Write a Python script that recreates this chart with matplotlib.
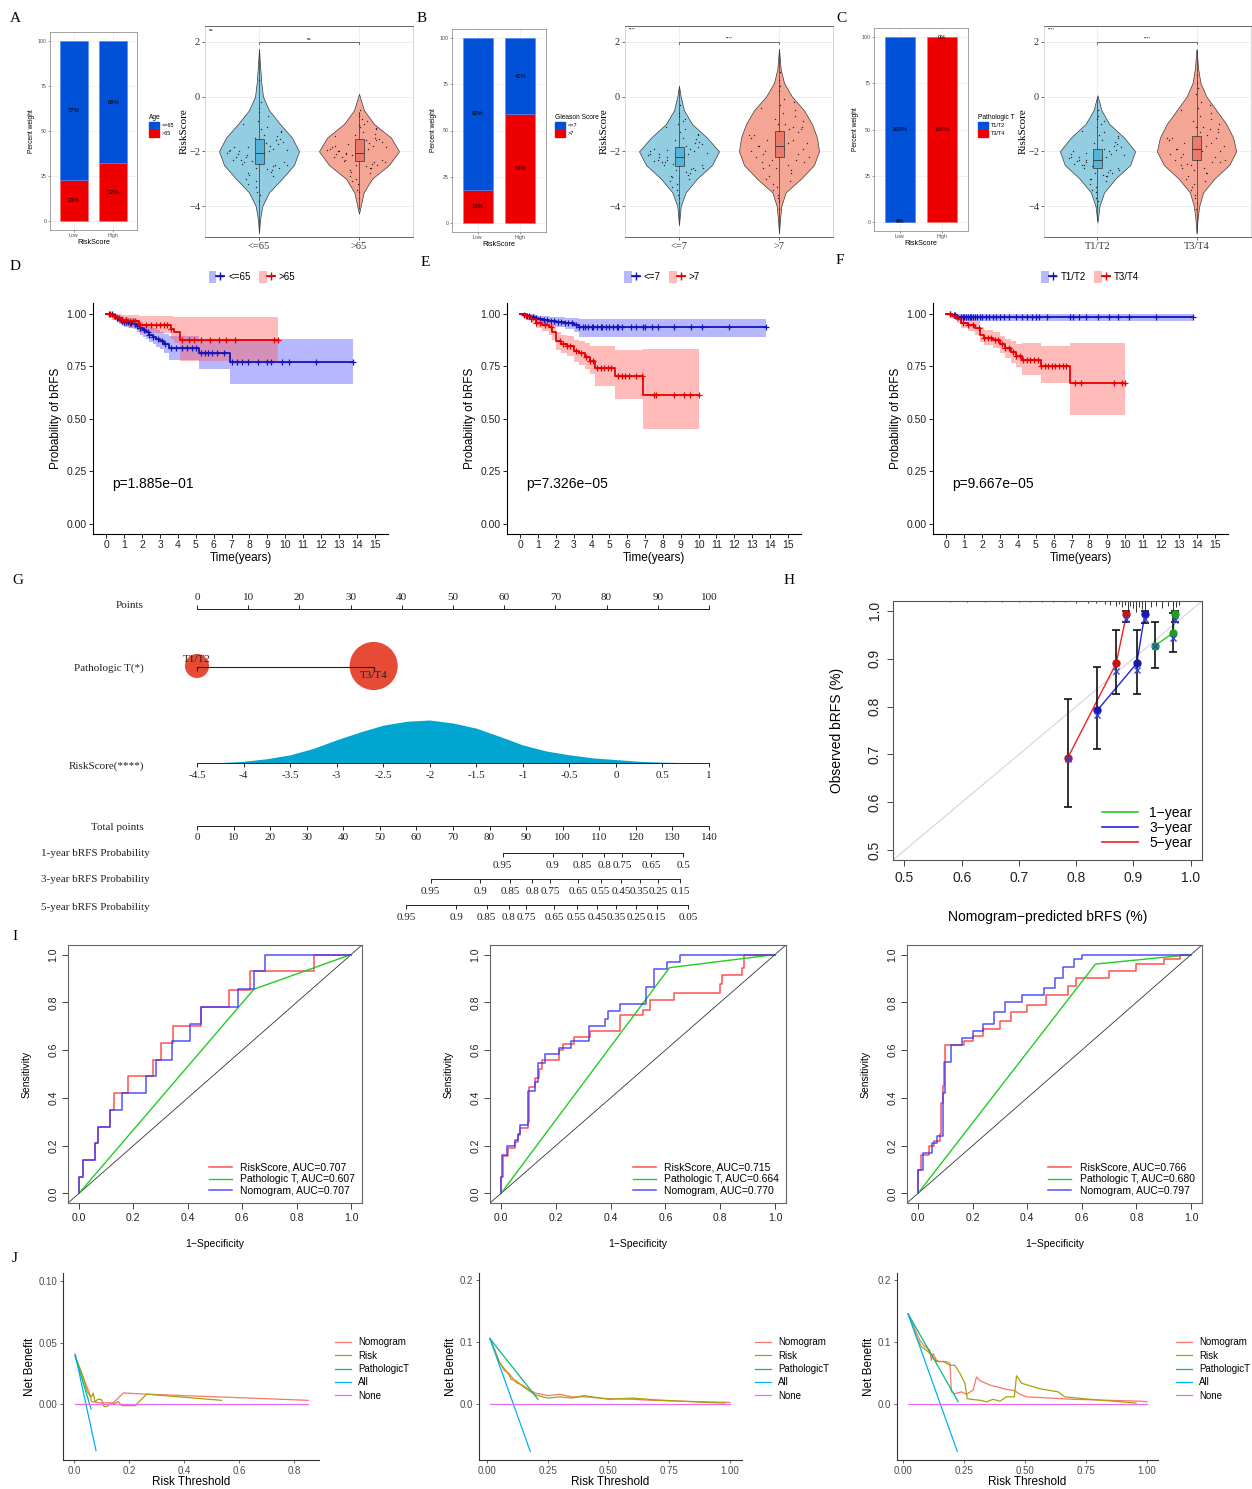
import numpy as np
import matplotlib
matplotlib.use("Agg")
import matplotlib.pyplot as plt
from matplotlib.patches import Patch
from matplotlib.lines import Line2D
from matplotlib.legend_handler import HandlerTuple

plt.rcParams["font.family"] = ["Liberation Sans", "DejaVu Sans"]
SERIF = ["Liberation Serif", "DejaVu Serif"]

# ---------------- A-C: stacked bars (percent) ----------------
risk_groups = ["Low", "High"]
age_le65 = [77, 68]
age_gt65 = [23, 32]
gleason_le7 = [82, 41]
gleason_gt7 = [18, 59]
pt_t12 = [100, 0]
pt_t34 = [0, 100]

# ---------------- A-C: violins (RiskScore level, half width) ----------------
vio_a1_y = [-5.0, -4.5, -4.0, -3.5, -3.0, -2.5, -2.0, -1.5, -1.0, -0.5, 0.0, 0.5, 1.0, 1.75]
vio_a1_w = [0, 0.01, 0.033, 0.10, 0.23, 0.35, 0.40, 0.33, 0.21, 0.10, 0.04, 0.023, 0.013, 0]
vio_a2_y = [-4.28, -4.0, -3.5, -3.0, -2.5, -2.0, -1.5, -1.0, -0.5, 0.1]
vio_a2_w = [0, 0.017, 0.047, 0.13, 0.30, 0.40, 0.32, 0.15, 0.05, 0]
vio_b1_y = [-4.7, -4.0, -3.5, -3.0, -2.5, -2.0, -1.5, -1.0, -0.5, 0.0, 0.4]
vio_b1_w = [0, 0.017, 0.067, 0.18, 0.33, 0.40, 0.28, 0.13, 0.05, 0.017, 0]
vio_b2_y = [-5.0, -4.5, -4.0, -3.5, -3.0, -2.5, -2.0, -1.5, -1.0, -0.5, 0.0, 0.5, 1.0, 1.75]
vio_b2_w = [0, 0.01, 0.023, 0.067, 0.22, 0.35, 0.40, 0.38, 0.33, 0.25, 0.13, 0.05, 0.017, 0]
vio_c1_y = [-4.6, -4.0, -3.5, -3.0, -2.5, -2.0, -1.5, -1.0, -0.5, 0.05]
vio_c1_w = [0, 0.02, 0.067, 0.18, 0.33, 0.38, 0.27, 0.12, 0.04, 0]
vio_c2_y = [-5.0, -4.5, -4.0, -3.5, -3.0, -2.5, -2.0, -1.5, -1.0, -0.5, 0.0, 0.5, 1.0, 1.75]
vio_c2_w = [0, 0.01, 0.027, 0.067, 0.18, 0.33, 0.40, 0.37, 0.30, 0.20, 0.10, 0.04, 0.017, 0]

# box stats: whislo, q1, median, q3, whishi
box_a1 = [-4.9, -2.45, -2.05, -1.55, 1.7]
box_a2 = [-4.1, -2.35, -2.05, -1.55, -0.55]
box_b1 = [-4.6, -2.55, -2.2, -1.85, 0.3]
box_b2 = [-4.95, -2.2, -1.8, -1.25, 1.7]
box_c1 = [-4.5, -2.6, -2.3, -1.9, 0.0]
box_c2 = [-4.95, -2.3, -1.9, -1.45, 1.7]

# sample of jittered points (RiskScore) and shared jitter fractions
jitter_frac = [-0.62, 0.35, 0.81, -0.15, 0.52, -0.88, 0.07, 0.66, -0.41, 0.23, -0.73, 0.94, -0.05, 0.44, -0.57,
               0.18, 0.71, -0.29, -0.96, 0.58, 0.02, -0.47, 0.85, -0.21, 0.39, -0.68, 0.13, 0.76, -0.35, 0.49,
               0.28, -0.83, 0.61, -0.12, 0.9, -0.44, 0.05, -0.7, 0.37, -0.25, 0.79, -0.55, 0.15, -0.92, 0.47,
               -0.08, 0.68, -0.38, 0.21, -0.78, 0.54, -0.18, 0.97, -0.6, 0.31, -0.02, 0.73, -0.49, 0.1, -0.86]
pts_a1 = [-2.1, -1.8, -2.4, -1.5, -2.7, -2.0, -1.2, -2.9, -2.2, -1.7, -3.2, -2.5, -0.9, -1.9, -2.3,
          -1.4, -2.6, -3.5, -2.05, -1.6, -0.4, -2.8, -1.95, -2.35, -1.1, -3.0, -2.15, -0.7, -1.85, -2.55,
          -2.0, -2.3, -1.75, -2.6, -1.3, -2.85, -1.9, -2.2, -0.2, -3.3, -1.65, -2.45, -2.05, -1.0, -2.75,
          -3.8, -1.45, -2.15, 0.6, -1.85, -2.5, -3.1, -1.25, -2.0, -2.65, -0.55, -1.55, -2.4, -3.6, -1.95]
pts_a2 = [-2.0, -1.7, -2.3, -1.4, -2.6, -1.9, -1.1, -2.8, -2.1, -1.6, -3.1, -2.4, -0.7, -1.8, -2.2,
          -1.3, -2.5, -3.4, -1.95, -1.5, -0.6, -2.7, -1.85, -2.15, -1.0, -2.9, -2.05, -0.9, -1.75, -2.45,
          -1.9, -2.2, -1.6, -2.5, -1.2, -2.75, -2.0, -2.1, -0.8, -3.0, -1.65, -2.35, -1.95, -1.45, -2.6,
          -3.7, -1.35, -2.05, -0.5, -1.8, -2.4, -3.2, -1.15, -2.0, -2.55, -1.05, -1.55, -2.3, -3.5, -1.85]
pts_b1 = [-2.2, -1.9, -2.5, -1.6, -2.8, -2.1, -1.3, -3.0, -2.3, -1.8, -3.3, -2.6, -1.0, -2.0, -2.4,
          -1.5, -2.7, -3.6, -2.15, -1.7, -0.6, -2.9, -2.05, -2.45, -1.2, -3.1, -2.25, -0.8, -1.95, -2.65,
          -2.1, -2.35, -1.85, -2.7, -1.4, -2.95, -2.0, -2.3, -0.9, -3.4, -1.75, -2.5, -2.15, -1.1, -2.85,
          -3.9, -1.55, -2.2, -0.3, -1.9, -2.6, -3.2, -1.35, -2.1, -2.75, -0.7, -1.65, -2.4, -3.7, -2.0]
pts_b2 = [-1.8, -1.2, -2.4, -0.8, -2.8, -1.5, -0.3, -3.1, -2.0, -1.0, -3.4, -2.2, 0.2, -1.6, -2.6,
          -0.6, -1.9, -3.7, -1.4, -2.1, 0.6, -2.9, -1.7, -2.3, -0.1, -3.0, -1.3, -0.5, -2.5, -1.1,
          -1.7, -2.0, -1.3, -2.6, -0.9, -3.2, -1.5, -2.2, 0.9, -3.6, -1.1, -2.4, -1.9, -0.4, -2.7,
          -4.1, -0.7, -1.6, 0.4, -1.4, -2.3, -3.3, -0.2, -1.8, -2.5, -1.0, -1.2, -2.1, -3.8, -1.5]
pts_c1 = [-2.3, -2.0, -2.6, -1.7, -2.9, -2.2, -1.4, -3.1, -2.4, -1.9, -3.4, -2.7, -1.1, -2.1, -2.5,
          -1.6, -2.8, -3.7, -2.25, -1.8, -0.7, -3.0, -2.15, -2.55, -1.3, -3.2, -2.35, -0.9, -2.05, -2.75,
          -2.2, -2.45, -1.95, -2.8, -1.5, -3.0, -2.1, -2.35, -1.0, -3.5, -1.85, -2.6, -2.25, -1.25, -2.9,
          -4.0, -1.65, -2.3, -0.5, -2.0, -2.7, -3.3, -1.45, -2.2, -2.85, -0.8, -1.75, -2.5, -3.8, -2.1]
pts_c2 = [-1.9, -1.4, -2.4, -0.9, -2.8, -1.6, -0.4, -3.1, -2.1, -1.1, -3.4, -2.3, 0.1, -1.7, -2.6,
          -0.7, -2.0, -3.7, -1.5, -2.2, 0.5, -2.9, -1.8, -2.5, -0.2, -3.0, -1.3, -0.6, -2.45, -1.2,
          -1.8, -2.1, -1.5, -2.7, -1.0, -3.3, -1.6, -2.3, 0.8, -3.6, -1.2, -2.5, -2.0, -0.5, -2.8,
          -4.1, -0.8, -1.7, 0.3, -1.5, -2.4, -3.2, -0.3, -1.9, -2.6, -1.1, -1.3, -2.2, -3.9, -1.6]

# ---------------- D-F: Kaplan-Meier (time, surv, lower, upper, censored times) ----------------
d_lo_t = [0, 0.35, 0.55, 0.7, 0.85, 1.0, 1.25, 1.5, 1.7, 1.9, 2.05, 2.2, 2.4, 2.6, 2.8, 3.0, 3.2, 3.5, 5.2, 6.9, 13.8]
d_lo_s = [1.0, 0.99, 0.98, 0.97, 0.965, 0.96, 0.955, 0.95, 0.94, 0.93, 0.92, 0.91, 0.9, 0.89, 0.88, 0.87, 0.855, 0.835, 0.81, 0.77, 0.77]
d_lo_l = [1.0, 0.978, 0.965, 0.952, 0.945, 0.938, 0.932, 0.925, 0.912, 0.9, 0.889, 0.877, 0.865, 0.853, 0.842, 0.83, 0.813, 0.78, 0.735, 0.665, 0.665]
d_lo_u = [1.0, 1.0, 0.995, 0.99, 0.986, 0.983, 0.979, 0.975, 0.968, 0.96, 0.952, 0.945, 0.937, 0.929, 0.921, 0.913, 0.902, 0.895, 0.88, 0.88, 0.88]
d_lo_c = [0.15, 0.3, 0.5, 0.6, 0.8, 0.9, 1.0, 1.1, 1.2, 1.3, 1.4, 1.6, 1.7, 1.9, 2.1, 2.3, 2.4, 2.6, 2.9, 3.1, 3.3,
          3.6, 3.9, 4.2, 4.5, 4.8, 5.0, 5.3, 5.5, 5.7, 5.9, 6.2, 6.6, 7.0, 7.3, 7.6, 7.9, 8.5, 9.0, 9.2, 9.8, 10.2, 11.7, 13.8]
d_hi_t = [0, 0.3, 0.6, 0.9, 1.2, 1.8, 3.6, 3.8, 4.1, 9.6]
d_hi_s = [1.0, 0.99, 0.98, 0.97, 0.965, 0.945, 0.925, 0.91, 0.873, 0.873]
d_hi_l = [1.0, 0.97, 0.955, 0.94, 0.93, 0.905, 0.88, 0.86, 0.775, 0.775]
d_hi_u = [1.0, 1.0, 1.0, 0.995, 0.993, 0.988, 0.987, 0.985, 0.983, 0.983]
d_hi_c = [0.2, 0.4, 0.7, 0.9, 1.1, 1.3, 1.5, 1.6, 1.9, 2.2, 2.5, 2.8, 3.0, 3.2, 3.4, 3.6, 4.2, 4.6, 4.9, 5.3,
          5.8, 6.3, 6.7, 7.2, 9.4, 9.6]

e_lo_t = [0, 0.2, 0.4, 0.6, 0.8, 1.0, 1.3, 1.6, 2.0, 2.5, 3.0, 3.3, 13.8]
e_lo_s = [1, 0.995, 0.99, 0.985, 0.98, 0.975, 0.97, 0.965, 0.96, 0.955, 0.945, 0.937, 0.937]
e_lo_l = [1, 0.985, 0.975, 0.968, 0.96, 0.955, 0.948, 0.94, 0.935, 0.925, 0.912, 0.889, 0.889]
e_lo_u = [1, 1, 1, 0.998, 0.995, 0.99, 0.988, 0.985, 0.983, 0.98, 0.977, 0.976, 0.976]
e_lo_c = [0.2, 0.4, 0.5, 0.7, 0.9, 1.1, 1.3, 1.5, 1.7, 1.9, 2.1, 2.3, 2.5, 2.7, 2.9, 3.1, 3.3, 3.5, 3.6, 3.8,
          4.0, 4.1, 4.3, 4.5, 4.6, 4.8, 5.0, 5.2, 5.4, 5.5, 5.7, 6.2, 6.5, 6.9, 7.0, 7.4, 7.7, 8.6, 9.6, 10.2, 11.7, 13.8]
e_hi_t = [0, 0.3, 0.6, 0.9, 1.2, 1.6, 1.8, 2.0, 2.3, 2.6, 3.0, 3.3, 3.6, 3.9, 4.2, 5.3, 6.9, 10.0]
e_hi_s = [1, 0.99, 0.975, 0.955, 0.945, 0.935, 0.91, 0.87, 0.855, 0.845, 0.82, 0.81, 0.795, 0.775, 0.742, 0.703, 0.613, 0.613]
e_hi_l = [1, 0.975, 0.955, 0.93, 0.915, 0.9, 0.872, 0.828, 0.81, 0.797, 0.768, 0.753, 0.735, 0.71, 0.653, 0.594, 0.45, 0.45]
e_hi_u = [1, 1, 0.995, 0.98, 0.975, 0.97, 0.948, 0.912, 0.9, 0.893, 0.872, 0.867, 0.858, 0.845, 0.844, 0.828, 0.832, 0.832]
e_hi_c = [0.3, 0.6, 0.9, 1.1, 1.4, 1.7, 2.2, 2.4, 2.6, 2.8, 3.1, 3.4, 3.7, 3.9, 4.1, 4.3, 4.5, 4.7, 4.9, 5.1,
          5.5, 5.7, 5.9, 6.1, 6.5, 6.8, 7.5, 7.6, 8.6, 9.2, 9.5, 10.0]

f_lo_t = [0, 0.3, 0.6, 13.8]
f_lo_s = [1, 0.995, 0.985, 0.985]
f_lo_l = [1, 0.985, 0.963, 0.963]
f_lo_u = [1, 1, 1, 1]
f_lo_c = [0.2, 0.4, 0.5, 0.6, 0.8, 0.9, 1.0, 1.1, 1.2, 1.3, 1.4, 1.5, 1.6, 1.7, 1.9, 2.0, 2.2, 2.4, 2.6, 2.8,
          3.0, 3.2, 3.5, 3.9, 4.2, 4.5, 4.8, 5.0, 5.2, 5.6, 6.9, 7.1, 7.4, 7.8, 8.5, 9.1, 9.6, 10.2, 11.7, 13.8]
f_hi_t = [0, 0.3, 0.6, 0.8, 1.2, 1.6, 1.9, 2.1, 2.6, 3.0, 3.3, 3.6, 3.9, 4.2, 5.3, 6.9, 10.0]
f_hi_s = [1, 0.99, 0.975, 0.955, 0.945, 0.93, 0.9, 0.885, 0.875, 0.855, 0.835, 0.815, 0.8, 0.78, 0.752, 0.67, 0.67]
f_hi_l = [1, 0.975, 0.955, 0.93, 0.915, 0.9, 0.865, 0.85, 0.835, 0.81, 0.79, 0.765, 0.745, 0.708, 0.667, 0.515, 0.515]
f_hi_u = [1, 1, 0.995, 0.98, 0.975, 0.965, 0.935, 0.92, 0.912, 0.895, 0.88, 0.867, 0.857, 0.859, 0.844, 0.859, 0.859]
f_hi_c = [0.2, 0.5, 0.9, 1.2, 1.5, 1.8, 2.1, 2.3, 2.5, 2.7, 2.9, 3.1, 3.3, 3.5, 3.7, 3.9, 4.1, 4.3, 4.5, 4.7,
          4.9, 5.1, 5.3, 5.5, 5.7, 5.9, 6.1, 6.3, 6.5, 6.7, 7.2, 7.5, 9.4, 9.8, 10.0]

# ---------------- G: nomogram ----------------
points_ticks = [0, 10, 20, 30, 40, 50, 60, 70, 80, 90, 100]
pt_stage_points = [0, 34.5]
pt_stage_labels = ["T1/T2", "T3/T4"]
risk_ticks = [-4.5, -4, -3.5, -3, -2.5, -2, -1.5, -1, -0.5, 0, 0.5, 1]
risk_tick_labels = ["-4.5", "-4", "-3.5", "-3", "-2.5", "-2", "-1.5", "-1", "-0.5", "0", "0.5", "1"]
risk_dens_x = [-4.5, -4.25, -4, -3.75, -3.5, -3.25, -3, -2.75, -2.5, -2.25, -2, -1.75, -1.5, -1.25, -1,
               -0.75, -0.5, -0.25, 0, 0.25, 0.5, 0.75, 1]
risk_dens_h = [0, 0.01, 0.04, 0.1, 0.19, 0.34, 0.54, 0.72, 0.88, 0.97, 1.0, 0.93, 0.81, 0.62, 0.42,
               0.28, 0.19, 0.12, 0.08, 0.04, 0.02, 0.01, 0]
total_ticks = [0, 10, 20, 30, 40, 50, 60, 70, 80, 90, 100, 110, 120, 130, 140]
y1_tp = [83.6, 97.3, 105.3, 111.4, 116.2, 124.1, 132.9]
y1_lab = ["0.95", "0.9", "0.85", "0.8", "0.75", "0.65", "0.5"]
y3_tp = [63.9, 77.4, 85.7, 91.7, 96.5, 104.2, 110.4, 115.9, 121.0, 126.1, 132.2]
y3_lab = ["0.95", "0.9", "0.85", "0.8", "0.75", "0.65", "0.55", "0.45", "0.35", "0.25", "0.15"]
y5_tp = [57.2, 70.9, 79.2, 85.2, 90.0, 97.7, 103.8, 109.5, 114.6, 120.0, 125.7, 134.3]
y5_lab = ["0.95", "0.9", "0.85", "0.8", "0.75", "0.65", "0.55", "0.45", "0.35", "0.25", "0.15", "0.05"]

# ---------------- H: calibration ----------------
cal1_x = [0.938, 0.969, 0.973]
cal1_y = [0.927, 0.953, 0.992]
cal1_lo = [0.880, 0.914, 0.977]
cal1_hi = [0.977, 0.994, 1.0]
cal1_bc = [0.927, 0.942, 0.981]
cal3_x = [0.837, 0.906, 0.920]
cal3_y = [0.792, 0.890, 0.992]
cal3_lo = [0.711, 0.826, 0.975]
cal3_hi = [0.883, 0.959, 1.0]
cal3_bc = [0.782, 0.877, 0.983]
cal5_x = [0.785, 0.870, 0.888]
cal5_y = [0.692, 0.890, 0.992]
cal5_lo = [0.590, 0.826, 0.976]
cal5_hi = [0.816, 0.959, 1.0]
cal5_bc = [0.690, 0.875, 0.983]
cal_rug_x = [0.58, 0.61, 0.64, 0.67, 0.70, 0.72, 0.74, 0.76, 0.78, 0.80, 0.82, 0.835, 0.85, 0.86, 0.87,
             0.875, 0.88, 0.885, 0.89, 0.895, 0.90, 0.905, 0.91, 0.915, 0.92, 0.93, 0.94, 0.95, 0.96, 0.97, 0.975, 0.98]
cal_rug_h = [0.002, 0.002, 0.002, 0.002, 0.003, 0.002, 0.003, 0.003, 0.003, 0.004, 0.004, 0.005, 0.006, 0.008, 0.01,
             0.006, 0.012, 0.008, 0.02, 0.01, 0.014, 0.022, 0.012, 0.016, 0.02, 0.012, 0.01, 0.014, 0.01, 0.02, 0.012, 0.008]

# ---------------- I: ROC (vertical step at x[i-1], level y[i]) ----------------
roc1_risk_x = [0, 0.016, 0.061, 0.07, 0.113, 0.128, 0.18, 0.272, 0.30, 0.345, 0.45, 0.552, 0.628, 0.863, 1.0]
roc1_risk_y = [0, 0.07, 0.14, 0.21, 0.28, 0.35, 0.42, 0.49, 0.56, 0.63, 0.70, 0.78, 0.85, 0.93, 1.0]
roc1_nomo_x = [0, 0.016, 0.061, 0.07, 0.113, 0.16, 0.245, 0.284, 0.341, 0.407, 0.45, 0.585, 0.643, 0.683, 1.0]
roc1_nomo_y = [0, 0.07, 0.14, 0.21, 0.28, 0.35, 0.42, 0.49, 0.56, 0.64, 0.71, 0.78, 0.855, 0.93, 1.0]
roc1_pt_x = [0, 0.643, 1.0]
roc1_pt_y = [0, 0.855, 1.0]
roc2_risk_x = [0, 0.006, 0.025, 0.05, 0.062, 0.068, 0.10, 0.102, 0.125, 0.14, 0.15, 0.21, 0.225, 0.265, 0.325,
               0.435, 0.52, 0.545, 0.63, 0.80, 0.805, 0.88, 0.885, 1.0]
roc2_risk_y = [0, 0.07, 0.155, 0.19, 0.215, 0.245, 0.275, 0.30, 0.445, 0.485, 0.52, 0.56, 0.60, 0.625, 0.655,
               0.68, 0.745, 0.77, 0.81, 0.84, 0.875, 0.915, 0.945, 1.0]
roc2_nomo_x = [0, 0.005, 0.022, 0.05, 0.063, 0.068, 0.098, 0.125, 0.135, 0.16, 0.21, 0.255, 0.32, 0.38, 0.39,
               0.435, 0.53, 0.56, 0.605, 0.655, 1.0]
roc2_nomo_y = [0, 0.07, 0.16, 0.2, 0.225, 0.25, 0.285, 0.43, 0.465, 0.545, 0.585, 0.61, 0.64, 0.70, 0.73,
               0.765, 0.795, 0.865, 0.94, 0.97, 1.0]
roc2_pt_x = [0, 0.615, 1.0]
roc2_pt_y = [0, 0.945, 1.0]
roc3_risk_x = [0, 0.01, 0.04, 0.06, 0.08, 0.085, 0.09, 0.095, 0.1, 0.17, 0.2, 0.24, 0.3, 0.34, 0.4, 0.47,
               0.55, 0.58, 0.7, 0.8, 0.9, 0.96, 1.0]
roc3_risk_y = [0, 0.10, 0.16, 0.2, 0.22, 0.25, 0.38, 0.45, 0.55, 0.62, 0.64, 0.66, 0.69, 0.72, 0.76, 0.79,
               0.83, 0.87, 0.9, 0.93, 0.96, 0.98, 1.0]
roc3_nomo_x = [0, 0.02, 0.05, 0.07, 0.09, 0.1, 0.12, 0.16, 0.2, 0.24, 0.28, 0.32, 0.38, 0.46, 0.5, 0.53,
               0.57, 0.6, 1.0]
roc3_nomo_y = [0, 0.1, 0.17, 0.21, 0.24, 0.42, 0.55, 0.62, 0.65, 0.68, 0.71, 0.76, 0.8, 0.83, 0.86, 0.9,
               0.95, 0.98, 1.0]
roc3_pt_x = [0, 0.65, 1.0]
roc3_pt_y = [0, 0.96, 1.0]
roc_auc = [("0.707", "0.607", "0.707"), ("0.715", "0.664", "0.770"), ("0.766", "0.680", "0.797")]

# ---------------- J: decision curves ----------------
dca1_nomo_x = [0.004, 0.03, 0.045, 0.056, 0.064, 0.094, 0.143, 0.179, 0.264, 0.851]
dca1_nomo_y = [0.039, 0.024, 0.015, 0.009, 0.002, 0.001, 0.001, 0.009, 0.008, 0.003]
dca1_risk_x = [0.004, 0.028, 0.048, 0.056, 0.064, 0.07, 0.076, 0.088, 0.10, 0.109, 0.119, 0.131, 0.143,
               0.161, 0.173, 0.222, 0.264, 0.536]
dca1_risk_y = [0.039, 0.025, 0.010, 0.0075, 0.006, 0.009, 0.002, 0.004, 0.0035, -0.002, -0.002, 0.0, 0.0,
               0.002, -0.0013, -0.0013, 0.008, 0.003]
dca1_pt_x = [0.004, 0.062]
dca1_pt_y = [0.039, -0.004]
dca1_all_x = [0.004, 0.08]
dca1_all_y = [0.0407, -0.038]
dca1_none_x = [0.004, 0.851]

dca2_nomo_x = [0.012, 0.03, 0.05, 0.07, 0.09, 0.1, 0.12, 0.15, 0.18, 0.2, 0.25, 0.3, 0.35, 0.4, 0.5, 0.6,
               0.7, 0.8, 0.9, 1.0]
dca2_nomo_y = [0.106, 0.09, 0.07, 0.055, 0.05, 0.045, 0.035, 0.03, 0.022, 0.018, 0.014, 0.016, 0.012, 0.012,
               0.009, 0.008, 0.006, 0.005, 0.004, 0.003]
dca2_risk_x = [0.012, 0.03, 0.05, 0.07, 0.09, 0.1, 0.12, 0.15, 0.18, 0.2, 0.25, 0.3, 0.35, 0.4, 0.5, 0.6,
               0.7, 0.8, 0.9, 0.98]
dca2_risk_y = [0.106, 0.088, 0.068, 0.058, 0.048, 0.04, 0.038, 0.028, 0.02, 0.015, 0.01, 0.012, 0.01, 0.014,
               0.008, 0.01, 0.007, 0.005, 0.003, 0.002]
dca2_pt_x = [0.012, 0.21]
dca2_pt_y = [0.106, 0.008]
dca2_all_x = [0.012, 0.178]
dca2_all_y = [0.106, -0.076]
dca2_none_x = [0.012, 1.0]

dca3_nomo_x = [0.0205, 0.068, 0.089, 0.109, 0.116, 0.123, 0.137, 0.15, 0.178, 0.192, 0.198, 0.212, 0.239,
               0.26, 0.287, 0.301, 0.315, 0.356, 0.424, 0.458, 0.479, 0.506, 0.698, 0.971, 1.0]
dca3_nomo_y = [0.146, 0.104, 0.093, 0.088, 0.071, 0.082, 0.071, 0.069, 0.069, 0.066, 0.020, 0.017, 0.020,
               0.016, 0.023, 0.044, 0.038, 0.031, 0.024, 0.022, 0.016, 0.012, 0.008, 0.005, 0.004]
dca3_risk_x = [0.0205, 0.055, 0.075, 0.103, 0.137, 0.164, 0.192, 0.212, 0.233, 0.253, 0.263, 0.287, 0.315,
               0.342, 0.369, 0.397, 0.424, 0.456, 0.465, 0.486, 0.561, 0.636, 0.663, 0.78, 0.955]
dca3_risk_y = [0.146, 0.109, 0.093, 0.085, 0.069, 0.069, 0.063, 0.063, 0.050, 0.034, 0.009, 0.0076, 0.0065,
               0.004, 0.008, 0.005, 0.012, 0.012, 0.046, 0.034, 0.025, 0.020, 0.012, 0.0076, 0.002]
dca3_pt_x = [0.0205, 0.226]
dca3_pt_y = [0.146, 0.004]
dca3_all_x = [0.0205, 0.222]
dca3_all_y = [0.146, -0.076]
dca3_none_x = [0.0205, 1.0]

# ======================================================================
W, H = 1252, 1489
fig = plt.figure(figsize=(W / 100, H / 100), dpi=100)

BAR_BLUE, BAR_RED = "#0050D8", "#EE0000"
VIO_BLUE, VIO_RED = "#93CDE1", "#F5A594"
BOX_BLUE, BOX_RED = "#55B5D8", "#E97A6C"
KM_COLS = ["#1414B8", "#E80000"]
KM_FILL = ["#5555FF", "#FF5C5C"]
ROC_RED, ROC_GREEN, ROC_BLUE = "#FF3333", "#22CC22", "#3333FF"
DCA_COLS = ["#F8766D", "#A3A500", "#00BF7D", "#00B0F6", "#E76BF3"]


def px_axes(x0, y0, x1, y1):
    return fig.add_axes([x0 / W, 1 - y1 / H, (x1 - x0) / W, (y1 - y0) / H])


def letter(x, y, s):
    fig.text(x / W, 1 - y / H, s, family=SERIF, fontsize=11, va="center", ha="left")


def stacked_bar(box, top, bot, title, labels, leg_xy):
    ax = px_axes(*box)
    x = np.arange(1, len(risk_groups) + 1)
    ax.bar(x, bot, width=0.7, color=BAR_RED, edgecolor="#FF6A6A", lw=0.4, zorder=2)
    ax.bar(x, top, bottom=bot, width=0.7, color=BAR_BLUE, edgecolor="#4A86FF", lw=0.4, zorder=2)
    for xi, b, t in zip(x, bot, top):
        ax.text(xi, b / 2, f"{b}%", ha="center", va="center", fontsize=4.2, zorder=3)
        ax.text(xi, b + t / 2, f"{t}%", ha="center", va="center", fontsize=4.2, zorder=3)
    ax.set_xlim(0.4, 2.6)
    ax.set_ylim(-5, 105)
    ax.set_xticks(x, risk_groups)
    ax.set_yticks([0, 25, 50, 75, 100])
    ax.tick_params(labelsize=3.8, length=1.5, width=0.4, pad=1, colors="#4D4D4D")
    ax.grid(color="#EBEBEB", lw=0.5)
    ax.set_axisbelow(True)
    for s in ax.spines.values():
        s.set_color("#7F7F7F")
        s.set_linewidth(0.5)
    ax.set_xlabel("RiskScore", fontsize=5.2, labelpad=0.5)
    ax.set_ylabel("Percent weight", fontsize=4.8, labelpad=2)
    ax.legend([Patch(color=BAR_BLUE), Patch(color=BAR_RED)], labels, title=title, loc="upper left",
              bbox_to_anchor=(leg_xy[0] / W, 1 - leg_xy[1] / H), bbox_transform=fig.transFigure,
              frameon=False, fontsize=4, title_fontsize=4.8, handlelength=1.8, handleheight=1.6,
              handletextpad=0.5, labelspacing=0.15, borderpad=0, borderaxespad=0, alignment="left")


def violin_panel(box, xlim, groups, ticklabels, star):
    ax = px_axes(*box)
    for pos, (vy, vw, col, bcol, st, pts) in enumerate(groups, start=1):
        vy = np.array(vy)
        vw = np.array(vw)
        ax.fill_betweenx(vy, pos - vw, pos + vw, facecolor=col, edgecolor="#3A3A3A", lw=0.5, zorder=2)
        pts = np.array(pts)
        wy = np.interp(pts, vy, vw)
        ax.scatter(pos + np.array(jitter_frac[:len(pts)]) * wy * 0.85, pts, s=1.0, color="#2A2A2A",
                   lw=0, zorder=3)
        stats = dict(whislo=st[0], q1=st[1], med=st[2], q3=st[3], whishi=st[4])
        ax.bxp([stats], positions=[pos], widths=0.09, patch_artist=True, showfliers=False, showcaps=False,
               manage_ticks=False,
               boxprops=dict(facecolor=bcol, edgecolor="#333333", lw=0.5),
               medianprops=dict(color="#333333", lw=0.6),
               whiskerprops=dict(color="#333333", lw=0.5), zorder=4)
    ax.plot([1, 1, 2, 2], [1.93, 2.0, 2.0, 1.93], color="#555555", lw=0.6)
    ax.text(1.5, 2.05, star, ha="center", va="bottom", fontsize=3.2)
    ax.text(xlim[0] + 0.04, 2.45, star, ha="left", va="center", fontsize=3.2)
    ax.set_xlim(*xlim)
    ax.set_ylim(-5.13, 2.58)
    ax.set_xticks([1, 2], ticklabels)
    ax.set_yticks([-4, -2, 0, 2])
    ax.tick_params(labelsize=7.5, length=2, width=0.5, pad=1.5, colors="#333333")
    for lab in ax.get_xticklabels() + ax.get_yticklabels():
        lab.set_family(SERIF)
    ax.grid(color="#EBEBEB", lw=0.6)
    ax.set_axisbelow(True)
    for k, s in ax.spines.items():
        s.set_linewidth(0.6)
        s.set_color("#4D4D4D" if k in ("top", "bottom") else "#D0D0D0")
    ax.set_ylabel("RiskScore", family=SERIF, fontsize=8, labelpad=0.5)


def km_panel(box, groups, labels, pval, leg_cx):
    ax = px_axes(*box)
    handles = []
    for (t, s, lo, hi, cens), col, fcol in zip(groups, KM_COLS, KM_FILL):
        t = np.array(t)
        s = np.array(s)
        ax.fill_between(t, lo, hi, step="post", color=fcol, alpha=0.42, lw=0)
        ax.step(t, s, where="post", color=col, lw=1.3)
        idx = np.searchsorted(t, cens, side="right") - 1
        ax.plot(cens, s[idx], ls="none", marker="+", color=col, ms=5, mew=0.9)
        handles.append((Patch(facecolor=fcol, alpha=0.42, lw=0),
                        Line2D([], [], color=col, lw=1.3, marker="+", ms=6, mew=1)))
    ax.text(0.3, 0.19, pval, fontsize=10, va="center", ha="left")
    ax.set_xlim(-0.75, 15.75)
    ax.set_ylim(-0.05, 1.05)
    ax.set_xticks(range(0, 16))
    ax.set_yticks([0, 0.25, 0.5, 0.75, 1.0], ["0.00", "0.25", "0.50", "0.75", "1.00"])
    ax.tick_params(labelsize=7.5, length=3, width=0.7, pad=1.5, colors="#222222")
    for k in ("top", "right"):
        ax.spines[k].set_visible(False)
    for k in ("left", "bottom"):
        ax.spines[k].set_linewidth(0.8)
    ax.set_xlabel("Time(years)", fontsize=8.5, labelpad=1.5)
    ax.set_ylabel("Probability of bRFS", fontsize=8.5, labelpad=3)
    ax.legend(handles, labels, handler_map={tuple: HandlerTuple(ndivide=None)}, loc="center",
              bbox_to_anchor=(leg_cx / W, 1 - 277 / H), bbox_transform=fig.transFigure, ncol=2,
              frameon=False, fontsize=7, handlelength=1.6, handleheight=1.4, columnspacing=0.9,
              handletextpad=0.4, borderpad=0)


def roc_panel(box, curves, aucs):
    ax = px_axes(*box)
    ax.axline((0, 0), (1, 1), color="#333333", lw=0.6)
    (rx, ry), (gx, gy), (bx, by) = curves
    ax.step(rx, ry, where="pre", color=ROC_RED, lw=1.1, alpha=0.85, label=f"RiskScore, AUC={aucs[0]}")
    ax.plot(gx, gy, color=ROC_GREEN, lw=1.0, label=f"Pathologic T, AUC={aucs[1]}")
    ax.step(bx, by, where="pre", color=ROC_BLUE, lw=1.1, alpha=0.85, label=f"Nomogram, AUC={aucs[2]}")
    ax.set_xlim(-0.04, 1.04)
    ax.set_ylim(-0.04, 1.04)
    ticks = [0, 0.2, 0.4, 0.6, 0.8, 1.0]
    ax.set_xticks(ticks, ["0.0", "0.2", "0.4", "0.6", "0.8", "1.0"])
    ax.set_yticks(ticks, ["0.0", "0.2", "0.4", "0.6", "0.8", "1.0"])
    ax.tick_params(labelsize=7.5, length=4, width=0.6, pad=3, colors="#222222")
    ax.tick_params(axis="y", labelrotation=90)
    for lab in ax.get_yticklabels():
        lab.set_va("center")
    for s in ax.spines.values():
        s.set_color("#666666")
        s.set_linewidth(0.8)
    ax.set_xlabel("1\u2212Specificity", fontsize=7.5, labelpad=12)
    ax.set_ylabel("Sensitivity", fontsize=7.5, labelpad=12)
    ax.legend(loc="lower right", fontsize=7.5, frameon=False, handlelength=2.2, labelspacing=0.15,
              borderaxespad=0.3)


def dca_panel(box, xlim, ylim, curves, xticks, xlabels, yticks, ylabels, leg_x):
    ax = px_axes(*box)
    names = ["Nomogram", "Risk", "PathologicT", "All", "None"]
    for (x, y), col, name in zip(curves, DCA_COLS, names):
        ax.plot(x, y, color=col, lw=0.9, label=name)
    ax.set_xlim(*xlim)
    ax.set_ylim(*ylim)
    ax.set_xticks(xticks, xlabels)
    ax.set_yticks(yticks, ylabels)
    ax.tick_params(labelsize=7, length=2.5, width=0.6, pad=1.5, colors="#4D4D4D")
    for k in ("top", "right"):
        ax.spines[k].set_visible(False)
    for k in ("left", "bottom"):
        ax.spines[k].set_color("#333333")
        ax.spines[k].set_linewidth(0.8)
    ax.set_xlabel("Risk Threshold", fontsize=8.5, labelpad=0.5)
    ax.set_ylabel("Net Benefit", fontsize=8.5, labelpad=2)
    ax.legend(loc="center left", bbox_to_anchor=(leg_x / W, 1 - 1369 / H), bbox_transform=fig.transFigure,
              frameon=False, fontsize=7, handlelength=1.6, labelspacing=0.35, borderpad=0, borderaxespad=0)


# ---------------- row 1 ----------------
letter(10, 18, "A")
letter(417, 18, "B")
letter(836, 18, "C")
stacked_bar((50, 32, 137, 230), age_le65, age_gt65, "Age", ["<=65", ">65"], (149, 114))
stacked_bar((452, 29, 546, 232), gleason_le7, gleason_gt7, "Gleason Score", ["<=7", ">7"], (555, 114))
stacked_bar((874, 28, 968, 231), pt_t12, pt_t34, "Pathologic T", ["T1/T2", "T3/T4"], (978, 114))
violin_panel((205, 26, 413, 237), (0.46, 2.54),
             [(vio_a1_y, vio_a1_w, VIO_BLUE, BOX_BLUE, box_a1, pts_a1),
              (vio_a2_y, vio_a2_w, VIO_RED, BOX_RED, box_a2, pts_a2)], ["<=65", ">65"], "ns")
violin_panel((625, 26, 833, 237), (0.46, 2.54),
             [(vio_b1_y, vio_b1_w, VIO_BLUE, BOX_BLUE, box_b1, pts_b1),
              (vio_b2_y, vio_b2_w, VIO_RED, BOX_RED, box_b2, pts_b2)], ["<=7", ">7"], "****")
violin_panel((1044, 26, 1251, 237), (0.46, 2.55),
             [(vio_c1_y, vio_c1_w, VIO_BLUE, BOX_BLUE, box_c1, pts_c1),
              (vio_c2_y, vio_c2_w, VIO_RED, BOX_RED, box_c2, pts_c2)], ["T1/T2", "T3/T4"], "****")

# ---------------- row 2 ----------------
letter(10, 267, "D")
letter(421, 263, "E")
letter(836, 260, "F")
km_panel((93, 303, 388, 534),
         [(d_lo_t, d_lo_s, d_lo_l, d_lo_u, d_lo_c), (d_hi_t, d_hi_s, d_hi_l, d_hi_u, d_hi_c)],
         ["<=65", ">65"], "p=1.885e\u221201", 252)
km_panel((507, 303, 801, 534),
         [(e_lo_t, e_lo_s, e_lo_l, e_lo_u, e_lo_c), (e_hi_t, e_hi_s, e_hi_l, e_hi_u, e_hi_c)],
         ["<=7", ">7"], "p=7.326e\u221205", 662)
km_panel((933, 303, 1228, 534),
         [(f_lo_t, f_lo_s, f_lo_l, f_lo_u, f_lo_c), (f_hi_t, f_hi_s, f_hi_l, f_hi_u, f_hi_c)],
         ["T1/T2", "T3/T4"], "p=9.667e\u221205", 1090)

# ---------------- G: nomogram ----------------
letter(12, 580, "G")
axn = px_axes(0, 585, 770, 930)
PPX = 5.12  # pixels per point
axn.set_xlim(-197 / PPX, (770 - 197) / PPX)
axn.set_ylim(930, 585)
axn.axis("off")
NF = dict(family=SERIF, fontsize=8, color="#222222")


def row_label(y, s, right_px=144):
    axn.text((right_px - 197) / PPX, y, s, ha="right", va="center", **NF)


def scale_row(y, pos, labels, up=False):
    pos = np.array(pos, dtype=float)
    axn.plot([pos.min(), pos.max()], [y, y], color="#222222", lw=0.7)
    axn.vlines(pos, y, y - 4 if up else y + 4, color="#222222", lw=0.7)
    for p, lab in zip(pos, labels):
        axn.text(p, y - 11 if up else y + 12, lab, ha="center", va="center", **NF)


row_label(606, "Points")
scale_row(609, points_ticks, [str(v) for v in points_ticks], up=True)

row_label(668, "Pathologic T(*)")
axn.plot(pt_stage_points, [667, 667], color="#222222", lw=0.8, zorder=3)
axn.vlines(pt_stage_points, 667, 671, color="#222222", lw=0.8, zorder=3)
axn.scatter(pt_stage_points, [666, 666], s=[300, 1200], color="#E64B35", lw=0, zorder=2)
axn.text(pt_stage_points[0], 660, pt_stage_labels[0], ha="center", va="center", zorder=4, **NF)
axn.text(pt_stage_points[1], 676, pt_stage_labels[1], ha="center", va="center", zorder=4, **NF)

row_label(766, "RiskScore(****)")
risk_to_pts = lambda v: (np.array(v, dtype=float) + 4.5) / 5.5 * 100
axn.fill_between(risk_to_pts(risk_dens_x), 763, 763 - np.array(risk_dens_h) * 43, color="#00A6D0", lw=0)
scale_row(763, risk_to_pts(risk_ticks), risk_tick_labels)

row_label(828, "Total points")
scale_row(826, np.array(total_ticks) / 1.4, [str(v) for v in total_ticks])

row_label(854, "1-year bRFS Probability", 150)
scale_row(853, np.array(y1_tp) / 1.4, y1_lab)
row_label(880, "3-year bRFS Probability", 150)
scale_row(879, np.array(y3_tp) / 1.4, y3_lab)
row_label(907, "5-year bRFS Probability", 150)
scale_row(905, np.array(y5_tp) / 1.4, y5_lab)

# ---------------- H: calibration ----------------
letter(784, 580, "H")
axc = px_axes(893, 601, 1202, 860)
axc.axline((0, 0), (1, 1), color="#D5D5D5", lw=0.8)
cal_sets = [(cal1_x, cal1_y, cal1_lo, cal1_hi, cal1_bc, "#22CC22", "#1EA01E", "1\u2212year"),
            (cal3_x, cal3_y, cal3_lo, cal3_hi, cal3_bc, "#2222DD", "#1A1AAA", "3\u2212year"),
            (cal5_x, cal5_y, cal5_lo, cal5_hi, cal5_bc, "#EE2222", "#CC1111", "5\u2212year")]
cal_handles = []
for x, y, lo, hi, bc, lcol, dcol, lab in cal_sets:
    x, y, lo, hi = map(np.array, (x, y, lo, hi))
    axc.plot(x, y, color=lcol, lw=1.0, zorder=2)
    axc.errorbar(x, y, yerr=[y - lo, hi - y], fmt="none", ecolor="#111111", elinewidth=1.2, capsize=3,
                 capthick=1.2, zorder=3)
    axc.plot(x, y, "o", color=dcol, ms=5, zorder=4)
    axc.plot(x, bc, "x", color="#3344DD", ms=5, mew=1, zorder=5)
    cal_handles.append(Line2D([], [], color=lcol, lw=1.2, label=lab))
axc.set_xlim(0.48, 1.02)
axc.set_ylim(0.48, 1.02)
axc.vlines(cal_rug_x, 1.02 - np.array(cal_rug_h), 1.02, color="#111111", lw=0.6)
ticks = [0.5, 0.6, 0.7, 0.8, 0.9, 1.0]
axc.set_xticks(ticks, ["0.5", "0.6", "0.7", "0.8", "0.9", "1.0"])
axc.set_yticks(ticks, ["0.5", "0.6", "0.7", "0.8", "0.9", "1.0"])
axc.tick_params(labelsize=10, length=4, width=0.6, pad=4, colors="#222222")
axc.tick_params(axis="y", labelrotation=90)
for lab in axc.get_yticklabels():
    lab.set_va("center")
for s in axc.spines.values():
    s.set_color("#555555")
    s.set_linewidth(0.8)
axc.set_xlabel("Nomogram\u2212predicted bRFS (%)", fontsize=10, labelpad=18)
axc.set_ylabel("Observed bRFS (%)", fontsize=10, labelpad=17)
axc.legend(handles=cal_handles, loc="lower right", fontsize=10, frameon=False, handlelength=2.6,
           labelspacing=0.1, borderaxespad=0.3)

# ---------------- I: ROC ----------------
letter(12, 936, "I")
roc_panel((68, 945, 362, 1203), [(roc1_risk_x, roc1_risk_y), (roc1_pt_x, roc1_pt_y), (roc1_nomo_x, roc1_nomo_y)],
          roc_auc[0])
roc_panel((490, 945, 786, 1203), [(roc2_risk_x, roc2_risk_y), (roc2_pt_x, roc2_pt_y), (roc2_nomo_x, roc2_nomo_y)],
          roc_auc[1])
roc_panel((907, 945, 1202, 1203), [(roc3_risk_x, roc3_risk_y), (roc3_pt_x, roc3_pt_y), (roc3_nomo_x, roc3_nomo_y)],
          roc_auc[2])

# ---------------- J: DCA ----------------
letter(12, 1258, "J")
dca_panel((63, 1273, 319, 1460), (-0.04, 0.89), (-0.0455, 0.1065),
          [(dca1_nomo_x, dca1_nomo_y), (dca1_risk_x, dca1_risk_y), (dca1_pt_x, dca1_pt_y),
           (dca1_all_x, dca1_all_y), (dca1_none_x, [0, 0])],
          [0, 0.2, 0.4, 0.6, 0.8], ["0.0", "0.2", "0.4", "0.6", "0.8"],
          [0, 0.05, 0.10], ["0.00", "0.05", "0.10"], 335)
dca_panel((479, 1273, 742, 1460), (-0.033, 1.05), (-0.09, 0.212),
          [(dca2_nomo_x, dca2_nomo_y), (dca2_risk_x, dca2_risk_y), (dca2_pt_x, dca2_pt_y),
           (dca2_all_x, dca2_all_y), (dca2_none_x, [0, 0])],
          [0, 0.25, 0.5, 0.75, 1.0], ["0.00", "0.25", "0.50", "0.75", "1.00"],
          [0, 0.1, 0.2], ["0.0", "0.1", "0.2"], 755)
dca_panel((897, 1273, 1158, 1460), (-0.025, 1.045), (-0.09, 0.212),
          [(dca3_nomo_x, dca3_nomo_y), (dca3_risk_x, dca3_risk_y), (dca3_pt_x, dca3_pt_y),
           (dca3_all_x, dca3_all_y), (dca3_none_x, [0, 0])],
          [0, 0.25, 0.5, 0.75, 1.0], ["0.00", "0.25", "0.50", "0.75", "1.00"],
          [0, 0.1, 0.2], ["0.0", "0.1", "0.2"], 1176)

fig.savefig("out.png", dpi=100)
